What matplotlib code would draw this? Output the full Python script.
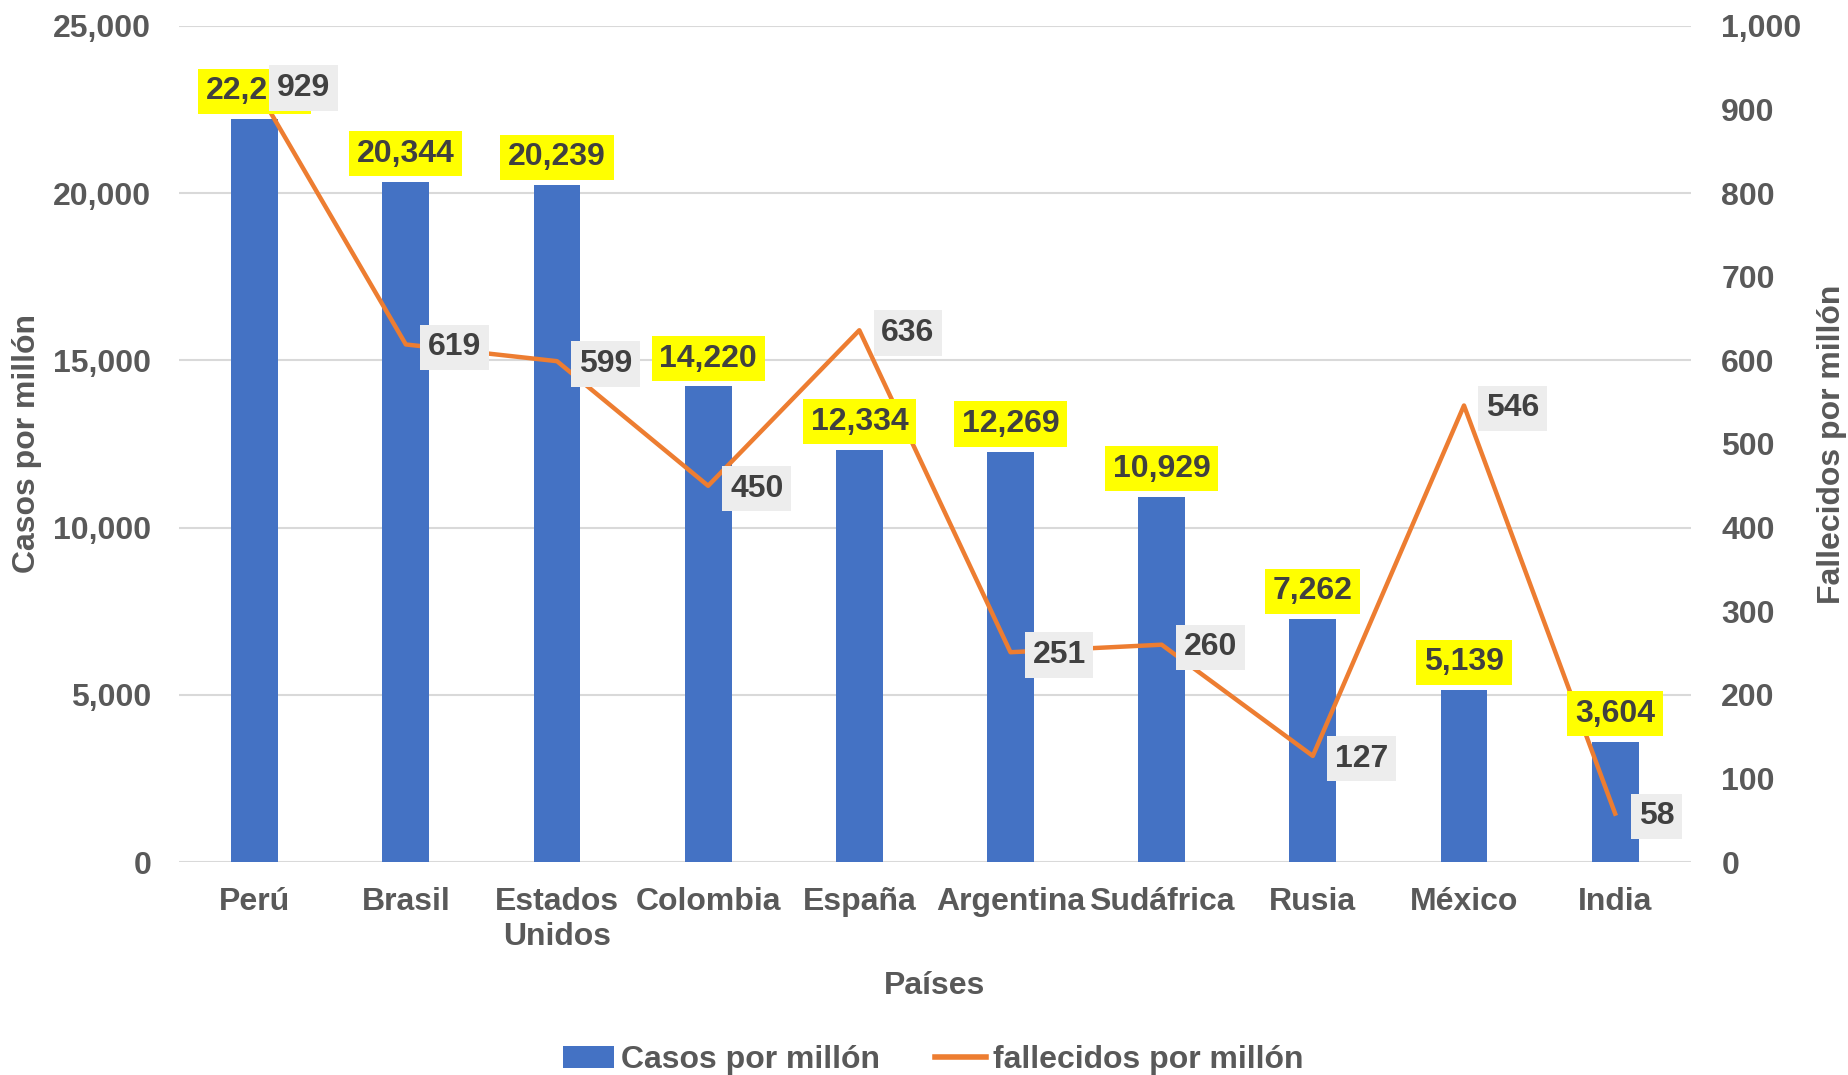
import matplotlib
matplotlib.use("Agg")
import matplotlib.pyplot as plt
import numpy as np
from matplotlib.lines import Line2D
from matplotlib.patches import Patch

paises = ["Perú", "Brasil", "Estados\nUnidos", "Colombia", "España", "Argentina",
          "Sudáfrica", "Rusia", "México", "India"]
casos = [22214, 20344, 20239, 14220, 12334, 12269, 10929, 7262, 5139, 3604]
fallecidos = [929, 619, 599, 450, 636, 251, 260, 127, 546, 58]
casos_ticks = [0, 5000, 10000, 15000, 20000, 25000]
fall_ticks = list(range(0, 1001, 100))

plt.rcParams['font.family'] = ['Liberation Sans', 'DejaVu Sans']
plt.rcParams['font.weight'] = 'bold'

GRAY = "#595959"
DARK = "#404040"
BLUE = "#4472C4"
ORANGE = "#ED7D31"
FS = 23

fig = plt.figure(figsize=(18.48, 10.75), dpi=100)
ax = fig.add_axes([0.0969, 0.198, 0.818, 0.778])
ax2 = ax.twinx()

x = np.arange(len(paises))
ax.bar(x, casos, width=0.31, color=BLUE, zorder=2)
ax.set_ylim(0, 25000)
ax.set_yticks(casos_ticks)
ax.set_yticklabels([f"{v:,}" for v in casos_ticks])
ax.set_xlim(-0.5, len(paises) - 0.5)
ax.set_xticks(x)
ax.set_xticklabels(paises)
ax.grid(axis='y', color="#D9D9D9", linewidth=1.5, zorder=0)
ax.set_axisbelow(True)

ax2.plot(x, fallecidos, color=ORANGE, linewidth=3.2, zorder=3)
ax2.set_ylim(0, 1000)
ax2.set_yticks(fall_ticks)
ax2.set_yticklabels([f"{v:,}" for v in fall_ticks])

for a in (ax, ax2):
    for s in a.spines.values():
        s.set_visible(False)
    a.tick_params(length=0, labelsize=FS, labelcolor=GRAY)
ax.tick_params(axis='x', pad=18)
ax.tick_params(axis='y', pad=20)
ax2.tick_params(axis='y', pad=22)
for lab in ax.get_xticklabels() + ax.get_yticklabels() + ax2.get_yticklabels():
    lab.set_fontweight('bold')

ax.set_xlabel("Países", fontsize=FS, color=GRAY, fontweight='bold', labelpad=14)
ax.set_ylabel("Casos por millón", fontsize=FS, color=GRAY, fontweight='bold', labelpad=8)
ax2.set_ylabel("Fallecidos por millón", fontsize=FS, color=GRAY, fontweight='bold', labelpad=11)

# bar labels (on ax2 so they sit above the line)
for xi, v in zip(x, casos):
    ax2.annotate(f"{v:,}", xy=(xi, v), xycoords=ax.transData,
                 xytext=(0, 20), textcoords='offset points',
                 ha='center', va='center', fontsize=FS, fontweight='bold', color=DARK,
                 bbox=dict(boxstyle='square,pad=0.24', fc='#FFFF00', ec='none'), zorder=5)

# line labels
for i, (xi, v) in enumerate(zip(x, fallecidos)):
    dx = 30 if i == len(fallecidos) - 1 else 35
    ax2.annotate(f"{v:,}", xy=(xi, v), xytext=(dx, -2), textcoords='offset points',
                 ha='center', va='center', fontsize=FS, fontweight='bold', color=DARK,
                 bbox=dict(boxstyle='square,pad=0.24', fc='#EDEDED', ec='none'), zorder=6)

handles = [Patch(facecolor=BLUE, edgecolor='none'),
           Line2D([0], [0], color=ORANGE, linewidth=4)]
fig.legend(handles, ["Casos por millón", "fallecidos por millón"],
           loc='lower center', bbox_to_anchor=(0.505, -0.027), ncol=2, frameon=False,
           prop={'size': FS, 'weight': 'bold'}, labelcolor=GRAY,
           handlelength=1.6, handletextpad=0.22, columnspacing=1.7)

fig.savefig("out.png", dpi=100)
